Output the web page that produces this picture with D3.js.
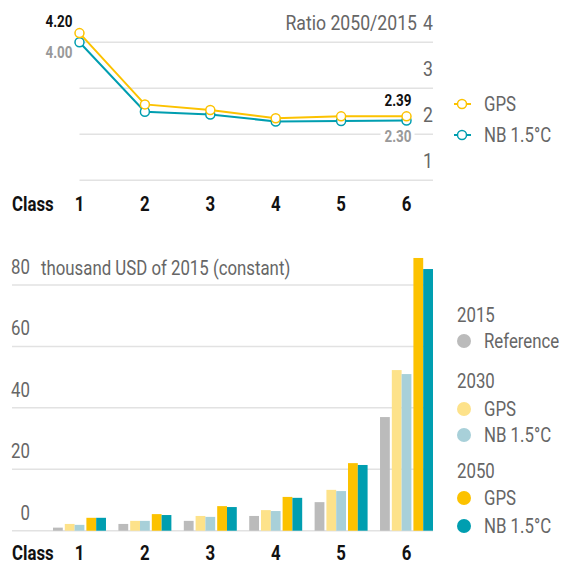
<!DOCTYPE html>
<html>
<head>
<meta charset="utf-8">
<script src="https://cdn.jsdelivr.net/npm/d3@7"></script>
<style>
  body { margin: 0; background: #fff; }
  svg { display: block; font-family: "Roboto", "Liberation Sans", sans-serif; }
</style>
</head>
<body>
<div id="plot"></div>
<script>
// values
const classes = ["1", "2", "3", "4", "5", "6"];

// ratio 2050/2015 (top panel)
const ratioGPS = [4.20, 2.65, 2.53, 2.35, 2.39, 2.39];
const ratioNB  = [4.00, 2.49, 2.43, 2.28, 2.29, 2.30];
const ratioTicks = [1, 2, 3, 4];

// thousand USD of 2015 (bottom panel)
const ref2015 = [1.0, 2.2, 3.2, 4.8, 9.3, 37.0];
const gps2030 = [2.2, 3.2, 4.8, 6.7, 13.3, 52.3];
const nb2030  = [1.9, 3.2, 4.5, 6.4, 12.9, 51.0];
const gps2050 = [4.2, 5.4, 8.0, 11.0, 22.0, 88.8];
const nb2050  = [4.2, 5.1, 7.7, 10.7, 21.4, 85.2];
const usdTicks = [0, 20, 40, 60, 80];

const gold = "#fcc200", teal = "#009eb0";
const barSeries = [
  { name: "Reference", year: "2015", values: ref2015, color: "#bbbbbb", slot: 0 },
  { name: "GPS", year: "2030", values: gps2030, color: "#fde28a", slot: 1 },
  { name: "NB 1.5°C", year: "2030", values: nb2030, color: "#a8d0d9", slot: 1 },
  { name: "GPS", year: "2050", values: gps2050, color: gold, slot: 2 },
  { name: "NB 1.5°C", year: "2050", values: nb2050, color: teal, slot: 2 }
];

const width = 561, height = 564;
const svg = d3.select("#plot").append("svg")
  .attr("width", width)
  .attr("height", height);

const x = d3.scaleBand()
  .domain(classes)
  .range([53, 433])
  .paddingInner(0.19);

// ---------- top panel: ratio ----------
const yr = d3.scaleLinear().domain([0, 4]).range([226.3, 42.3]);
const topG = svg.append("g");

topG.selectAll(".grid")
  .data(ratioTicks)
  .enter().append("line")
    .attr("x1", x("1") + x.bandwidth() / 2)
    .attr("x2", 433)
    .attr("y1", d => yr(d))
    .attr("y2", d => yr(d))
    .attr("stroke", "#e2e2e2")
    .attr("stroke-width", 1.5);

topG.selectAll(".tick")
  .data(ratioTicks)
  .enter().append("text")
    .attr("x", 433)
    .attr("y", d => yr(d) - 12)
    .attr("text-anchor", "end")
    .attr("fill", "#666")
    .style("font-size", "21px")
    .text(d => d);

topG.append("text")
  .attr("x", 417)
  .attr("y", 30)
  .attr("text-anchor", "end")
  .attr("fill", "#666")
  .style("font-size", "21px")
  .text("Ratio 2050/2015");

const cx = c => x(c) + x.bandwidth() / 2;
const line = d3.line()
  .x((d, i) => cx(classes[i]))
  .y(d => yr(d));

[{ v: ratioNB, c: teal }, { v: ratioGPS, c: gold }].forEach(s => {
  topG.append("path")
    .datum(s.v)
    .attr("d", line)
    .attr("fill", "none")
    .attr("stroke", s.c)
    .attr("stroke-width", 2);
  topG.selectAll(null)
    .data(s.v)
    .enter().append("circle")
      .attr("cx", (d, i) => cx(classes[i]))
      .attr("cy", d => yr(d))
      .attr("r", 4.5)
      .attr("fill", "#fff")
      .attr("stroke", s.c)
      .attr("stroke-width", 1.5);
});

// value labels at the ends
const lastI = classes.length - 1;
const endLabels = [
  { x: cx("1") - 7, y: yr(ratioGPS[0]) - 6, t: ratioGPS[0].toFixed(2), c: "#111" },
  { x: cx("1") - 7, y: yr(ratioNB[0]) + 16, t: ratioNB[0].toFixed(2), c: "#999" },
  { x: cx(classes[lastI]) + 5, y: yr(ratioGPS[lastI]) - 10, t: ratioGPS[lastI].toFixed(2), c: "#111" },
  { x: cx(classes[lastI]) + 5, y: yr(ratioNB[lastI]) + 21, t: ratioNB[lastI].toFixed(2), c: "#999" }
];
endLabels.forEach((d, i) => {
  if (i === 3) {
    topG.append("rect")
      .attr("x", d.x - 31).attr("y", d.y - 14)
      .attr("width", 34).attr("height", 16)
      .attr("fill", "#fff");
  }
  topG.append("text")
    .attr("x", d.x)
    .attr("y", d.y)
    .attr("text-anchor", "end")
    .attr("fill", d.c)
    .style("font-size", "16px")
    .style("font-weight", "bold")
    .text(d.t);
});

// class axis row
function classAxis(y) {
  svg.append("text")
    .attr("x", 12).attr("y", y)
    .style("font-size", "20px").style("font-weight", "bold")
    .attr("fill", "#111")
    .text("Class");
  svg.selectAll(null)
    .data(classes)
    .enter().append("text")
      .attr("x", d => cx(d))
      .attr("y", y)
      .attr("text-anchor", "middle")
      .style("font-size", "20px").style("font-weight", "bold")
      .attr("fill", "#111")
      .text(d => d);
}
classAxis(211);

// top legend
[{ n: "GPS", c: gold, y: 104 }, { n: "NB 1.5°C", c: teal, y: 135 }].forEach(d => {
  svg.append("line")
    .attr("x1", 454).attr("x2", 471)
    .attr("y1", d.y).attr("y2", d.y)
    .attr("stroke", d.c).attr("stroke-width", 2);
  svg.append("circle")
    .attr("cx", 462).attr("cy", d.y).attr("r", 4.5)
    .attr("fill", "#fff").attr("stroke", d.c).attr("stroke-width", 1.5);
  svg.append("text")
    .attr("x", 484).attr("y", d.y + 7)
    .attr("fill", "#666")
    .style("font-size", "20px")
    .text(d.n);
});

// ---------- bottom panel: bars ----------
const yb = d3.scaleLinear().domain([0, 80]).range([530.7, 285]);
const bot = svg.append("g");

bot.selectAll(".grid")
  .data(usdTicks)
  .enter().append("line")
    .attr("x1", 12).attr("x2", 433)
    .attr("y1", d => yb(d)).attr("y2", d => yb(d))
    .attr("stroke", "#e2e2e2")
    .attr("stroke-width", 1.5);

bot.selectAll(".tick")
  .data(usdTicks)
  .enter().append("text")
    .attr("x", 30)
    .attr("y", d => yb(d) - 11)
    .attr("text-anchor", "end")
    .attr("fill", "#666")
    .style("font-size", "20px")
    .text(d => d);

bot.append("text")
  .attr("x", 41)
  .attr("y", 275)
  .attr("fill", "#666")
  .style("font-size", "20px")
  .text("thousand USD of 2015 (constant)");

const gap = 2;
const bw = (x.bandwidth() - 2 * gap) / barSeries.length;
barSeries.forEach((s, si) => {
  bot.selectAll(null)
    .data(s.values)
    .enter().append("rect")
      .attr("x", (d, i) => x(classes[i]) + si * bw + s.slot * gap)
      .attr("y", d => yb(d))
      .attr("width", bw)
      .attr("height", d => yb(0) - yb(d))
      .attr("fill", s.color);
});

classAxis(560);

// bottom legend
const legendRows = [
  { t: "2015", y: 315, head: true },
  { t: "Reference", y: 341, c: "#bbbbbb" },
  { t: "2030", y: 381, head: true },
  { t: "GPS", y: 409, c: "#fde28a" },
  { t: "NB 1.5°C", y: 435, c: "#a8d0d9" },
  { t: "2050", y: 471, head: true },
  { t: "GPS", y: 498, c: gold },
  { t: "NB 1.5°C", y: 526, c: teal }
];
legendRows.forEach(d => {
  if (!d.head) {
    svg.append("circle")
      .attr("cx", 464).attr("cy", d.y).attr("r", 7)
      .attr("fill", d.c);
  }
  svg.append("text")
    .attr("x", d.head ? 457 : 484)
    .attr("y", d.y + 7)
    .attr("fill", "#666")
    .style("font-size", "20px")
    .text(d.t);
});

// the original uses a condensed face: squeeze Roboto to roughly that width
svg.selectAll("text").each(function() {
  const len = this.getComputedTextLength();
  d3.select(this)
    .attr("textLength", len * 0.84)
    .attr("lengthAdjust", "spacingAndGlyphs");
});
</script>
</body>
</html>
